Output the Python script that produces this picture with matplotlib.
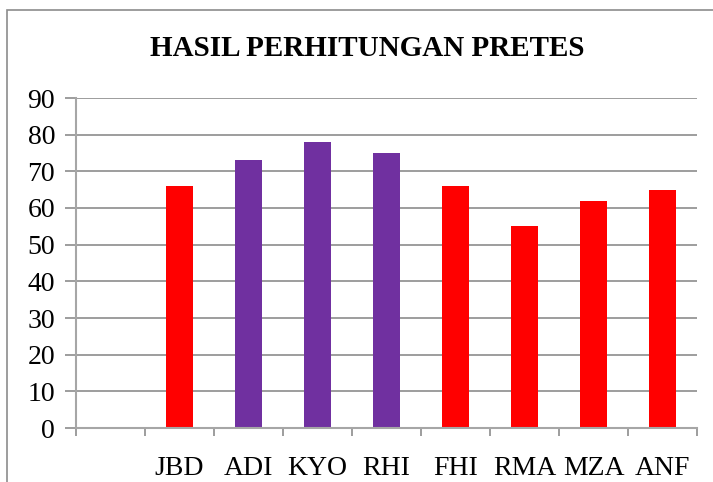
import matplotlib.pyplot as plt
from matplotlib.patches import Rectangle

names = ["", "JBD", "ADI", "KYO", "RHI", "FHI", "RMA", "MZA", "ANF"]
scores = [0, 66, 73, 78, 75, 66, 55, 62, 65]
colors = ["none", "#FF0000", "#7030A0", "#7030A0", "#7030A0",
          "#FF0000", "#FF0000", "#FF0000", "#FF0000"]

plt.rcParams['font.family'] = ['Liberation Serif', 'DejaVu Serif']

fig = plt.figure(figsize=(7.13, 4.82), dpi=100)
ax = fig.add_axes([76/713, 1 - 428/482, (697-76)/713, (428-98)/482])

x = list(range(len(names)))
ax.bar(x, scores, width=0.4, color=colors)

ax.set_xlim(-0.5, len(names) - 0.5)
ax.set_ylim(0, 90)
ax.set_yticks(range(0, 91, 10))
ax.yaxis.grid(True, color='#8c8c8c', lw=1.2)
ax.set_axisbelow(True)

ax.set_xticks(x)
ax.set_xticklabels(names, fontsize=20)
ax.set_xticks([i + 0.5 for i in range(-1, len(names))], minor=True)
ax.tick_params(axis='x', which='major', length=0, pad=20)
ax.tick_params(axis='x', which='minor', length=6, color='#8c8c8c', width=1.2, direction='out')
ax.tick_params(axis='y', length=8, color='#8c8c8c', width=1.2, labelsize=20, pad=7)

for s in ['top', 'right']:
    ax.spines[s].set_visible(False)
for s in ['left', 'bottom']:
    ax.spines[s].set_color('#a6a6a6')
    ax.spines[s].set_linewidth(1.5)

fig.text((148 + 587) / 2 / 713, 1 - 48/482, "HASIL PERHITUNGAN PRETES",
         ha='center', va='center', fontsize=21, fontweight='bold')

# chart border
fig.patches.append(Rectangle((7/713, -0.1), 1.1, 1 - 10/482 + 0.1,
                             transform=fig.transFigure, fill=False,
                             edgecolor='#8c8c8c', lw=1.2))

plt.savefig('out.png', dpi=100)
